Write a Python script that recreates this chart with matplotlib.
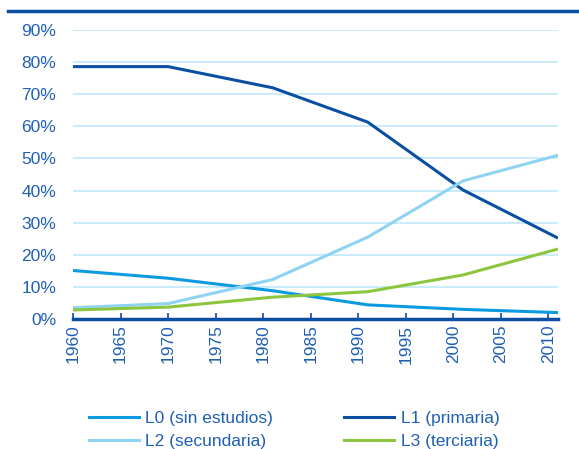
import matplotlib
matplotlib.use("Agg")
import matplotlib.pyplot as plt
from matplotlib.lines import Line2D
from matplotlib.ticker import FuncFormatter

plt.rcParams['font.family'] = ['Liberation Sans', 'DejaVu Sans']

# census years and share of population by education level (%)
years = [1960, 1970, 1981, 1991, 2001, 2011]
l0 = [15.1, 12.7, 8.8, 4.4, 3.0, 2.0]
l1 = [78.6, 78.6, 72.0, 61.3, 40.2, 25.2]
l2 = [3.5, 4.8, 12.3, 25.5, 43.0, 51.0]
l3 = [2.8, 3.7, 6.8, 8.5, 13.7, 21.8]
labels = ["L0 (sin estudios)", "L1 (primaria)", "L2 (secundaria)", "L3 (terciaria)"]
colors = ["#0a9ae0", "#0b4fa3", "#8fd3f3", "#8cc63f"]
text_col = "#1f5fb4"

fig = plt.figure(figsize=(5.79, 4.49), dpi=100)
ax = fig.add_axes([73/579, 1-319/449, (558-73)/579, (319-30)/449])

for vals, c in zip([l0, l1, l2, l3], colors):
    ax.plot(years, vals, color=c, lw=2.2, solid_capstyle='butt', zorder=3)

ax.set_xlim(1960, 2011)
ax.set_ylim(0, 90)
ax.set_yticks(range(0, 91, 10))
ax.yaxis.set_major_formatter(FuncFormatter(lambda v, p: f"{int(v)}%"))
ax.set_xticks(range(1960, 2011, 5))
ax.grid(axis='y', color="#bfe7fa", lw=1.2)
ax.set_axisbelow(True)
for s in ['top', 'right', 'left']:
    ax.spines[s].set_visible(False)
ax.spines['bottom'].set_color("#0b4fa3")
ax.spines['bottom'].set_linewidth(2.5)
ax.spines['bottom'].set_zorder(4)
ax.tick_params(axis='y', length=0, pad=12, labelsize=12.5, labelcolor=text_col)
ax.tick_params(axis='x', length=4, width=1.2, color="#0b4fa3", direction='in',
               labelsize=12.5, labelcolor=text_col, pad=4)
for t in ax.get_xticklabels():
    t.set_rotation(90)
    t.set_va('top')
    t.set_ha('center')

# top rule
fig.add_artist(Line2D([8/579, 1], [1-11/449, 1-11/449], color="#0b4fa3", lw=2.5))

# legend filled row by row: L0, L1 / L2, L3
order = [0, 2, 1, 3]
handles = [Line2D([], [], color=colors[i], lw=2.2) for i in order]
leg = fig.legend(handles, [labels[i] for i in order], loc='lower left',
                 bbox_to_anchor=(73/579, -0.035), ncol=2, frameon=False,
                 fontsize=12.5, handlelength=2.9, handletextpad=0.35,
                 columnspacing=4.1, labelspacing=0.45, labelcolor=text_col)

fig.savefig("out.png", dpi=100)
